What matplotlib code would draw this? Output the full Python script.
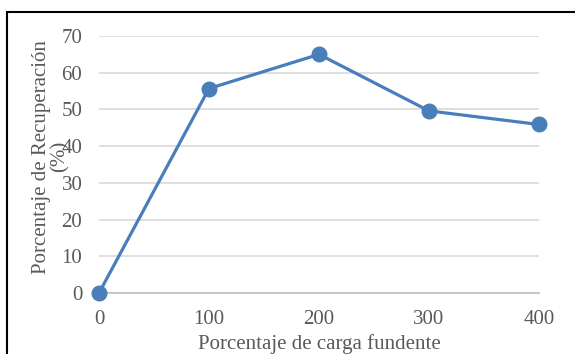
import matplotlib
matplotlib.use("Agg")
import matplotlib.pyplot as plt
from matplotlib.patches import Rectangle

carga = [0, 100, 200, 300, 400]
recuperacion = [0, 55.7, 65.0, 49.6, 45.9]
y_ticks = [0, 10, 20, 30, 40, 50, 60, 70]

plt.rcParams['font.family'] = ['Liberation Serif', 'DejaVu Serif']

fig = plt.figure(figsize=(5.75, 3.54), dpi=100)
ax = fig.add_axes([0.1722, 0.1723, 0.9374 - 0.1722, 0.8983 - 0.1723])

ax.plot(carga, recuperacion, color='#4a7ebb', linewidth=2.3, marker='o',
        markersize=10.5, clip_on=False, zorder=3)

ax.set_xlim(0, 400)
ax.set_ylim(0, 70)
ax.set_xticks(carga)
ax.set_yticks(y_ticks)
ax.grid(axis='y', color='#d9d9d9', linewidth=1.2)
ax.set_axisbelow(True)
for side in ['top', 'right', 'left']:
    ax.spines[side].set_visible(False)
ax.spines['bottom'].set_color('#bfbfbf')
ax.spines['bottom'].set_linewidth(1.2)
ax.tick_params(length=0, labelsize=15, labelcolor='#595959')
ax.tick_params(axis='x', pad=12)
ax.tick_params(axis='y', pad=12)

ax.set_xlabel('Porcentaje de carga fundente', fontsize=15, color='#595959', labelpad=4)
ax.set_ylabel('Porcentaje de Recuperación\n(%)', fontsize=15, color='#595959',
              labelpad=-6, linespacing=1.0)
ax.yaxis.label.set_y(0.53)

# outer frame
fig.patches.append(Rectangle((7 / 575, -0.1), 1.2, 1 - 12 / 354 + 0.1,
                             transform=fig.transFigure, fill=False,
                             edgecolor='black', linewidth=1.5))

fig.savefig('out.png', dpi=100)
